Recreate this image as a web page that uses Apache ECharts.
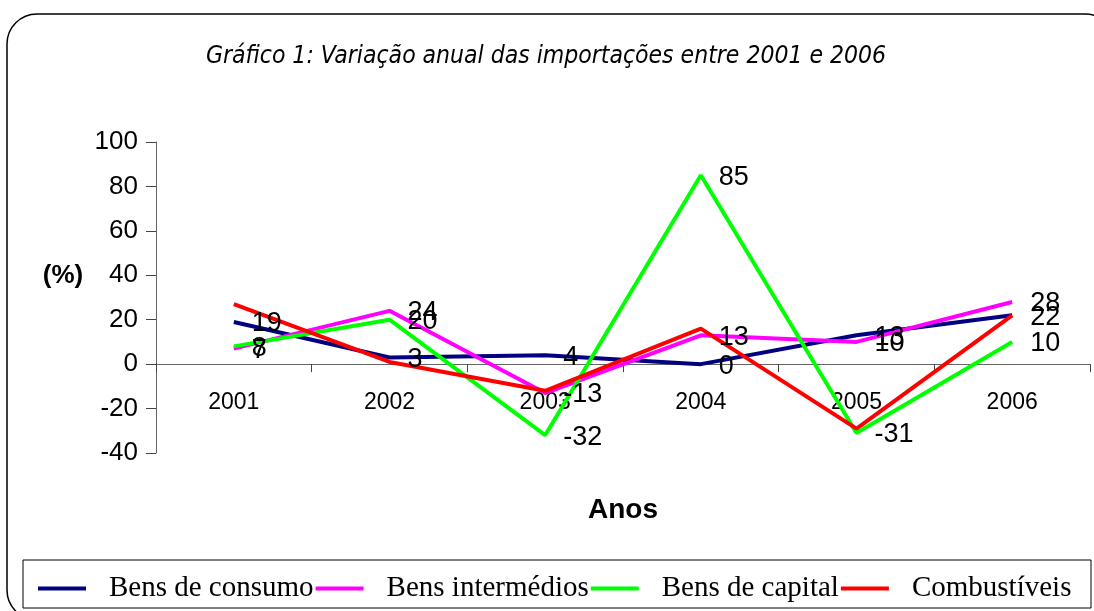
<!DOCTYPE html>
<html>
<head>
<meta charset="utf-8">
<script src="https://cdn.jsdelivr.net/npm/echarts@6/dist/echarts.min.js"></script>
<style>
  html, body { margin: 0; padding: 0; background: #fff; }
  #chart { width: 1094px; height: 611px; }
</style>
</head>
<body>
<div id="chart"></div>
<script>
//数据
var anos = ["2001", "2002", "2003", "2004", "2005", "2006"];
var bensConsumo = [19, 3, 4, 0, 13, 22];
var bensIntermedios = [7, 24, -13, 13, 10, 28];
var bensCapital = [8, 20, -32, 85, -31, 10];
var combustiveis = [27, 1, -12, 16, -29, 22];
var yTicks = [-40, 100, 20]; // min, max, interval

(function () {
  var myChart = echarts.init(document.getElementById("chart"));

  // 标签样式
  var lbl = {
    show: true,
    position: "right",
    distance: 18,
    offset: [0, 2],
    color: "#000",
    fontFamily: "Liberation Sans, Arial",
    fontSize: 27
  };

  function serie(name, data, color, showLabel) {
    return {
      name: name,
      type: "line",
      data: data,
      symbol: "circle",
      symbolSize: 0,
      showSymbol: true,
      lineStyle: { color: color, width: 4 },
      itemStyle: { color: color },
      label: showLabel ? lbl : { show: false },
      emphasis: { disabled: true }
    };
  }

  var option = {
    animation: false,
    title: {
      text: "Gráfico 1: Variação anual das importações entre 2001 e 2006",
      left: 541,
      textAlign: "center",
      top: 39,
      textStyle: {
        fontFamily: "Liberation Sans Narrow, DejaVu Sans Condensed, Liberation Sans",
        fontStyle: "italic",
        fontWeight: "normal",
        fontSize: 24.5,
        color: "#000"
      }
    },
    legend: {
      left: 33,
      top: 569,
      itemWidth: 48,
      itemHeight: 4,
      itemGap: 2,
      icon: "rect",
      textStyle: {
        fontFamily: "Liberation Serif, Times New Roman",
        fontSize: 29,
        color: "#000",
        padding: [0, 0, 0, 18]
      },
      data: ["Bens de consumo", "Bens intermédios", "Bens de capital", "Combustíveis"]
    },
    grid: {
      left: 156,
      right: 4,
      top: 142,
      bottom: 158
    },
    xAxis: {
      type: "category",
      data: anos,
      boundaryGap: true,
      axisLine: { onZero: true, lineStyle: { color: "#666", width: 1 } },
      axisTick: { show: true, length: 8, lineStyle: { color: "#444" } },
      axisLabel: {
        color: "#000",
        fontFamily: "Liberation Sans, Arial",
        fontSize: 23,
        margin: -62
      }
    },
    yAxis: {
      type: "value",
      min: yTicks[0],
      max: yTicks[1],
      interval: yTicks[2],
      axisLine: { show: true, lineStyle: { color: "#666", width: 1 } },
      axisTick: { show: true, length: 10, lineStyle: { color: "#444" } },
      splitLine: { show: false },
      axisLabel: {
        color: "#000",
        fontFamily: "Liberation Sans, Arial",
        fontSize: 26,
        margin: 18
      }
    },
    graphic: [
      // 外框
      {
        type: "rect",
        shape: { x: 7, y: 14, width: 1108, height: 606, r: 30 },
        style: { fill: "none", stroke: "#000", lineWidth: 1.5 },
        silent: true
      },
      // 图例框
      {
        type: "rect",
        shape: { x: 23, y: 560, width: 1068, height: 48 },
        style: { fill: "none", stroke: "#000", lineWidth: 1 },
        silent: true
      },
      {
        type: "text",
        x: 63,
        y: 276,
        style: {
          text: "(%)",
          align: "center",
          verticalAlign: "middle",
          fontFamily: "Liberation Sans, Arial",
          fontWeight: "bold",
          fontSize: 26,
          fill: "#000"
        }
      },
      {
        type: "text",
        x: 623,
        y: 510,
        style: {
          text: "Anos",
          align: "center",
          verticalAlign: "middle",
          fontFamily: "Liberation Sans, Arial",
          fontWeight: "bold",
          fontSize: 28,
          fill: "#000"
        }
      }
    ],
    series: [
      serie("Bens de consumo", bensConsumo, "#000080", true),
      serie("Bens intermédios", bensIntermedios, "#ff00ff", true),
      serie("Bens de capital", bensCapital, "#00ff00", true),
      serie("Combustíveis", combustiveis, "#ff0000", false)
    ]
  };
  myChart.setOption(option);
})();
</script>
</body>
</html>
